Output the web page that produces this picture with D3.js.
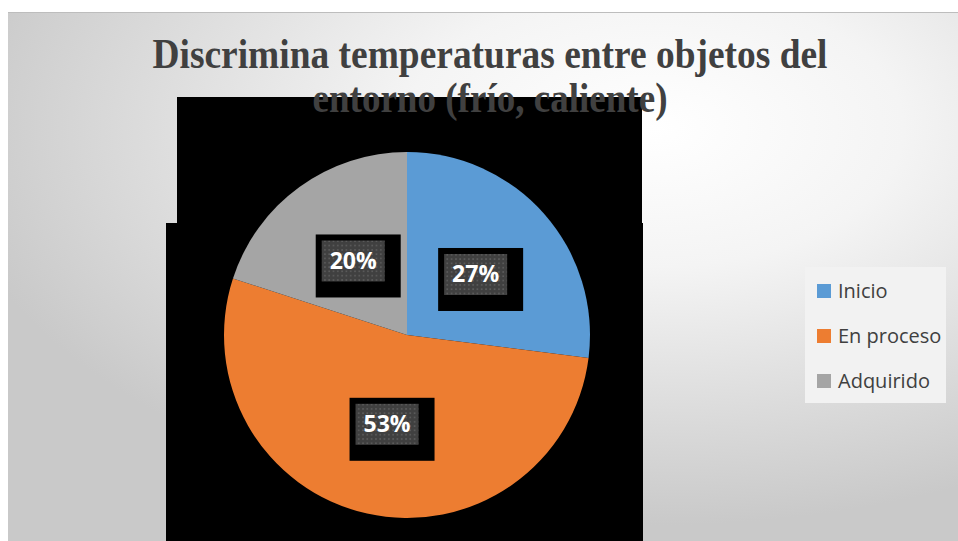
<!DOCTYPE html>
<html>
<head>
<meta charset="utf-8">
<script src="https://cdn.jsdelivr.net/npm/d3@7"></script>
<style>
  html, body { margin: 0; padding: 0; background: #ffffff; }
  svg { display: block; }
</style>
</head>
<body>
<svg id="chart"></svg>
<script>
const width = 958;
const height = 541;

// data
const categories = ["Inicio", "En proceso", "Adquirido"];
const values = [27, 53, 20];
const colors = ["#5b9bd5", "#ed7d31", "#a5a5a5"];
const titleLines = ["Discrimina temperaturas entre objetos del", "entorno (frío, caliente)"];

// layout
const cx = 407, cy = 335, radius = 183;
const legend = { x: 805, y: 267, w: 141, h: 136, rowY: 291, rowStep: 45 };

const svg = d3.select("#chart")
  .attr("width", width)
  .attr("height", height);

const defs = svg.append("defs");

// soft radial background
const grad = defs.append("radialGradient")
  .attr("id", "bg")
  .attr("cx", "68%").attr("cy", "22%").attr("r", "75%");
grad.append("stop").attr("offset", "0%").attr("stop-color", "#ffffff");
grad.append("stop").attr("offset", "35%").attr("stop-color", "#f4f4f4");
grad.append("stop").attr("offset", "100%").attr("stop-color", "#c9c9c9");

// dotted fill of the data label boxes
const pat = defs.append("pattern")
  .attr("id", "dots")
  .attr("patternUnits", "userSpaceOnUse")
  .attr("width", 4.3).attr("height", 4.3);
pat.append("rect").attr("width", 4.3).attr("height", 4.3).attr("fill", "#404040");
pat.append("rect").attr("x", 1).attr("y", 1).attr("width", 1.6).attr("height", 1.6).attr("fill", "#5c5c5c");

// chart area
svg.append("rect")
  .attr("x", 8).attr("y", 12)
  .attr("width", width - 8).attr("height", height - 12)
  .attr("fill", "url(#bg)");
svg.append("line")
  .attr("x1", 8).attr("x2", width)
  .attr("y1", 12.5).attr("y2", 12.5)
  .attr("stroke", "#bdbdbd");

// black blocks behind the plot
svg.append("rect")
  .attr("x", cx - 230).attr("y", cy - 238)
  .attr("width", 465).attr("height", 126)
  .attr("fill", "#000");
svg.append("rect")
  .attr("x", cx - 241).attr("y", cy - 112)
  .attr("width", 477).attr("height", height - (cy - 112))
  .attr("fill", "#000");

// title
svg.append("g")
  .selectAll("text")
  .data(titleLines)
  .enter()
  .append("text")
  .attr("x", 490)
  .attr("y", (d, i) => 68 + i * 44)
  .attr("text-anchor", "middle")
  .attr("textLength", (d, i) => i === 0 ? 675 : 355)
  .attr("lengthAdjust", "spacingAndGlyphs")
  .style("font-family", "'Liberation Serif', 'Times New Roman', serif")
  .style("font-weight", "bold")
  .style("font-size", "43px")
  .style("fill", "#404040")
  .text(d => d);

// pie
const pie = d3.pie().sort(null).value(d => d.value);
const arc = d3.arc().innerRadius(0).outerRadius(radius);
const slices = pie(categories.map((c, i) => ({ name: c, value: values[i], color: colors[i] })));

const g = svg.append("g").attr("transform", `translate(${cx},${cy})`);

g.selectAll("path")
  .data(slices)
  .enter()
  .append("path")
  .attr("d", arc)
  .attr("fill", d => d.data.color);

// data labels
const boxW = 63, boxH = 41;
const labels = g.selectAll(".lbl")
  .data(slices)
  .enter()
  .append("g")
  .attr("class", "lbl")
  .attr("transform", d => {
    const [x, y] = arc.centroid(d);
    return `translate(${x},${y})`;
  });

labels.append("rect")
  .attr("x", -boxW / 2 - 6).attr("y", -boxH / 2 - 6)
  .attr("width", boxW + 22).attr("height", boxH + 22)
  .attr("fill", "#000");

labels.append("rect")
  .attr("x", -boxW / 2).attr("y", -boxH / 2)
  .attr("width", boxW).attr("height", boxH)
  .attr("fill", "url(#dots)");

labels.append("text")
  .attr("text-anchor", "middle")
  .attr("y", 8)
  .style("font-family", "'Open Sans', sans-serif")
  .style("font-weight", "bold")
  .style("font-size", "23px")
  .style("fill", "#ffffff")
  .text(d => d.data.value + "%");

// legend
const lg = svg.append("g").attr("id", "legend");
lg.append("rect")
  .attr("x", legend.x).attr("y", legend.y)
  .attr("width", legend.w).attr("height", legend.h)
  .attr("fill", "#f2f2f2");

const items = lg.selectAll(".item")
  .data(categories)
  .enter()
  .append("g")
  .attr("class", "item")
  .attr("transform", (d, i) => `translate(${legend.x + 12},${legend.rowY + i * legend.rowStep})`);

items.append("rect")
  .attr("x", 0).attr("y", -7)
  .attr("width", 14).attr("height", 14)
  .attr("fill", (d, i) => colors[i]);

items.append("text")
  .attr("x", 21).attr("y", 7)
  .style("font-family", "'Open Sans', sans-serif")
  .style("font-size", "20px")
  .style("fill", "#404040")
  .text(d => d);
</script>
</body>
</html>
